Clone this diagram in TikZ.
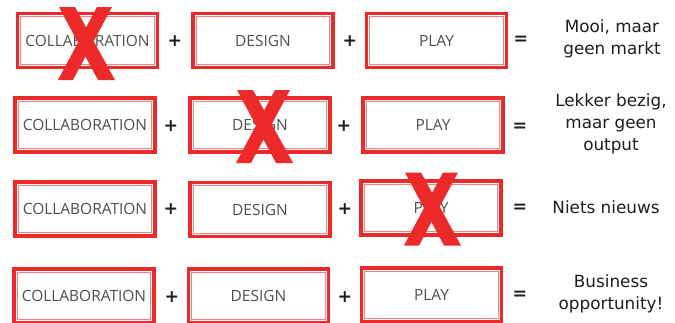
\documentclass[tikz,border=0pt]{standalone}
\usepackage{fontspec}
\setmainfont{DejaVu Sans}
\newfontfamily\boxfont{Open Sans}
\usetikzlibrary{positioning}
\definecolor{framered}{RGB}{236, 42, 42}
\definecolor{framelight}{RGB}{242, 130, 130}
\definecolor{labelgray}{RGB}{80, 80, 80}
\definecolor{outcome}{RGB}{30, 30, 30}

% big red cross: centre x, centre y
\newcommand{\strikeout}[2]{%
  \fill[framered] (#1-27,#2-36.5) -- (#1-11,#2-36.5) -- (#1+29,#2+36.5) -- (#1+12,#2+36.5) -- cycle;
  \fill[framered] (#1+11,#2-36.5) -- (#1+26,#2-36.5) -- (#1-13,#2+36.5) -- (#1-28,#2+36.5) -- cycle;
}

\begin{document}
\begin{tikzpicture}[x=0.75pt, y=-0.75pt,
        blok/.style={draw=framered, line width=2.3pt, fill=white, minimum width=105pt, minimum height=40.5pt,
          inner sep=0pt, font=\boxfont\fontsize{11.6pt}{13pt}\selectfont, text=labelgray,
          path picture={\draw[framelight, line width=0.7pt]
            ([shift={(2.5pt,2.5pt)}]path picture bounding box.south west) rectangle
            ([shift={(-2.5pt,-2.5pt)}]path picture bounding box.north east);}},
        op/.style={font=\bfseries\fontsize{13pt}{15pt}\selectfont, text=outcome, inner sep=0pt},
        res/.style={align=center, font=\fontsize{12.6pt}{16.5pt}\selectfont, text=outcome, inner sep=0pt}
      ]
        \useasboundingbox (0,0) rectangle (675,322);
        % rij 1
        \node[blok] (c1) at (87.5,40.5) {COLLABORATION};
        \node[blok] (d1) at (263,40.5) {DESIGN};
        \node[blok] (p1) at (436.5,40.5) {PLAY};
        \node[op] (plusa1) at (175,41) {+};
        \node[op] (plusb1) at (350,41) {+};
        \node[op] (is1) at (521,40) {=};
        \node[res] (r1) at (612,39) {Mooi, maar\\geen markt};
        % rij 2
        \node[blok] (c2) at (85,125) {COLLABORATION};
        \node[blok] (d2) at (260,125) {DESIGN};
        \node[blok] (p2) at (433,125) {PLAY};
        \node[op] (plusa2) at (171,126) {+};
        \node[op] (plusb2) at (344,126) {+};
        \node[op] (is2) at (520,127) {=};
        \node[res] (r2) at (611,124) {Lekker bezig,\\maar geen\\output};
        % rij 3
        \node[blok] (c3) at (85,209) {COLLABORATION};
        \node[blok] (d3) at (260,209.5) {DESIGN};
        \node[blok] (p3) at (431,208) {PLAY};
        \node[op] (plusa3) at (171,209) {+};
        \node[op] (plusb3) at (345,209) {+};
        \node[op] (is3) at (520,208) {=};
        \node[res] (r3) at (606,207) {Niets nieuws};
        % rij 4
        \node[blok] (c4) at (84,296) {COLLABORATION};
        \node[blok] (d4) at (258.5,296) {DESIGN};
        \node[blok] (p4) at (431.5,295) {PLAY};
        \node[op] (plusa4) at (172,297) {+};
        \node[op] (plusb4) at (345,297) {+};
        \node[op] (is4) at (520,295) {=};
        \node[res] (r4) at (611,294) {Business\\opportunity!};
        % kruizen
        \strikeout{86}{43.5}
        \strikeout{264}{126.5}
        \strikeout{432}{209}
      \end{tikzpicture}
\end{document}
